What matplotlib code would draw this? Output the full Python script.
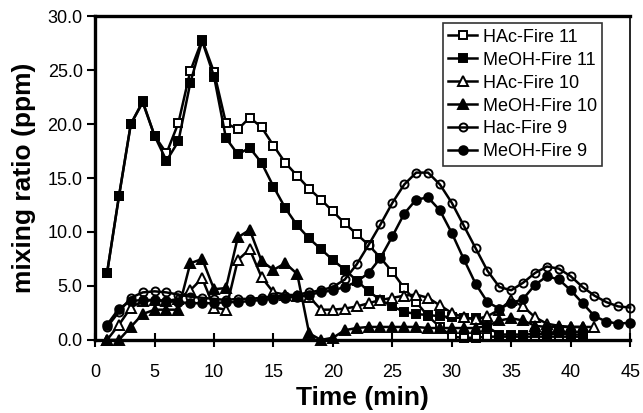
import matplotlib
matplotlib.use("Agg")
import matplotlib.pyplot as plt

# Acetic acid and methanol mixing ratios sampled once a minute during three fires.
TIME_FIRE_11 = list(range(1, 42))
TIME_FIRE_10_HAC = list(range(1, 43))
TIME_FIRE_10_MEOH = list(range(1, 42))
TIME_FIRE_9 = list(range(1, 46))

HAC_FIRE_11 = [
    6.2, 13.3, 20.0, 22.0, 18.9, 17.3, 20.1, 24.9, 27.8, 24.8,
    20.1, 19.5, 20.6, 19.7, 18.0, 16.4, 15.2, 14.0, 13.0, 11.9,
    10.8, 9.8, 8.8, 7.6, 6.3, 4.8, 3.5, 2.2, 1.2, 0.3,
    0.2, 0.2, 0.3, 0.3, 0.3, 0.3, 0.3, 0.3, 0.3, 0.3, 0.3,
]
MEOH_FIRE_11 = [
    6.2, 13.3, 20.0, 22.1, 18.9, 16.6, 18.4, 23.8, 27.7, 24.4,
    18.7, 17.2, 17.8, 16.4, 14.2, 12.2, 10.6, 9.4, 8.4, 7.4,
    6.5, 5.5, 4.5, 3.7, 3.1, 2.6, 2.4, 2.3, 2.2, 2.1,
    2.0, 2.0, 1.2, 0.5, 0.5, 0.5, 0.6, 0.5, 0.6, 0.5, 0.5,
]
HAC_FIRE_10 = [
    0.0, 1.4, 3.0, 3.6, 3.7, 3.6, 3.8, 4.6, 5.7, 3.0,
    2.8, 7.4, 8.4, 5.8, 4.4, 4.2, 4.1, 4.0, 2.8, 2.8,
    2.9, 3.1, 3.4, 3.7, 3.9, 4.1, 4.2, 3.9, 3.2, 2.5,
    2.1, 1.9, 2.2, 2.8, 3.7, 3.1, 2.1, 1.5, 1.3, 1.2, 1.2, 1.2,
]
MEOH_FIRE_10 = [
    0.0, 0.0, 1.2, 2.4, 2.8, 2.8, 2.8, 7.1, 7.5, 4.7,
    4.8, 9.5, 10.2, 7.3, 6.5, 7.1, 6.1, 0.6, 0.0, 0.2,
    0.9, 1.1, 1.2, 1.2, 1.2, 1.2, 1.2, 1.1, 1.1, 1.1,
    1.1, 1.1, 1.3, 1.8, 2.0, 1.8, 1.3, 1.2, 1.2, 1.2, 1.2,
]
HAC_FIRE_9 = [
    1.2, 2.6, 3.9, 4.4, 4.5, 4.4, 4.2, 4.0, 3.9, 3.8,
    3.7, 3.8, 3.8, 3.9, 4.0, 4.1, 4.2, 4.4, 4.6, 4.9,
    5.6, 7.0, 8.8, 10.7, 12.7, 14.4, 15.5, 15.5, 14.4, 12.7,
    10.6, 8.5, 6.4, 4.9, 4.6, 5.3, 6.2, 6.8, 6.6, 5.9,
    4.9, 4.1, 3.5, 3.1, 3.0,
]
MEOH_FIRE_9 = [
    1.4, 2.9, 3.6, 3.7, 3.7, 3.6, 3.5, 3.4, 3.4, 3.4,
    3.5, 3.5, 3.6, 3.7, 3.8, 3.9, 4.0, 4.2, 4.4, 4.6,
    4.9, 5.4, 6.2, 7.6, 9.6, 11.7, 13.0, 13.2, 12.0, 9.9,
    7.5, 5.2, 3.5, 2.9, 3.4, 3.8, 5.1, 5.9, 5.6, 4.6,
    3.4, 2.2, 1.7, 1.5, 1.6,
]

X_TICKS = [0, 5, 10, 15, 20, 25, 30, 35, 40, 45]
Y_TICKS = [0, 5, 10, 15, 20, 25, 30]
Y_TICK_LABELS = ["0.0", "5.0", "10.0", "15.0", "20.0", "25.0", "30.0"]

plt.rcParams["font.family"] = ["Liberation Sans", "DejaVu Sans"]


def draw_series(axis):
    # (label, times, values, marker, face colour, marker size)
    series = [
        ("HAc-Fire 11", TIME_FIRE_11, HAC_FIRE_11, "s", "white", 6.2),
        ("MeOH-Fire 11", TIME_FIRE_11, MEOH_FIRE_11, "s", "black", 6.2),
        ("HAc-Fire 10", TIME_FIRE_10_HAC, HAC_FIRE_10, "^", "white", 6.8),
        ("MeOH-Fire 10", TIME_FIRE_10_MEOH, MEOH_FIRE_10, "^", "black", 6.8),
        ("Hac-Fire 9", TIME_FIRE_9, HAC_FIRE_9, "o", "none", 5.8),
        ("MeOH-Fire 9", TIME_FIRE_9, MEOH_FIRE_9, "o", "black", 6.2),
    ]
    for label, times, values, marker, face, size in series:
        axis.plot(
            times,
            values,
            color="black",
            linewidth=1.8,
            marker=marker,
            markersize=size,
            markerfacecolor=face,
            markeredgecolor="black",
            markeredgewidth=1.4,
            label=label,
            clip_on=False,
        )


def main():
    figure = plt.figure(figsize=(6.43, 4.13), dpi=100)
    axis = figure.add_axes([0.148, 0.177, 0.832, 0.784])

    draw_series(axis)

    axis.set_xlim(0, 45)
    axis.set_ylim(0, 30)
    axis.set_xticks(X_TICKS)
    axis.set_yticks(Y_TICKS)
    axis.set_yticklabels(Y_TICK_LABELS)
    axis.tick_params(axis="x", direction="inout", length=10, width=1.5,
                     labelsize=13, pad=12)
    axis.tick_params(axis="y", direction="out", length=6, width=1.5,
                     labelsize=13, pad=3)

    for side in ("left", "bottom", "top"):
        axis.spines[side].set_linewidth(2.4)
    axis.spines["right"].set_linewidth(1.2)

    axis.set_xlabel("Time (min)", fontsize=19, fontweight="bold", labelpad=4)
    axis.set_ylabel("mixing ratio (ppm)", fontsize=19, fontweight="bold",
                    labelpad=8)

    legend = axis.legend(
        loc="upper right",
        bbox_to_anchor=(0.948, 0.978),
        fontsize=13,
        frameon=True,
        fancybox=False,
        edgecolor="black",
        borderaxespad=0,
        handlelength=1.6,
        handletextpad=0.3,
        labelspacing=0.33,
        borderpad=0.3,
    )
    legend.get_frame().set_linewidth(1.2)

    figure.savefig("out.png", dpi=100)
    plt.close(figure)


if __name__ == "__main__":
    main()
